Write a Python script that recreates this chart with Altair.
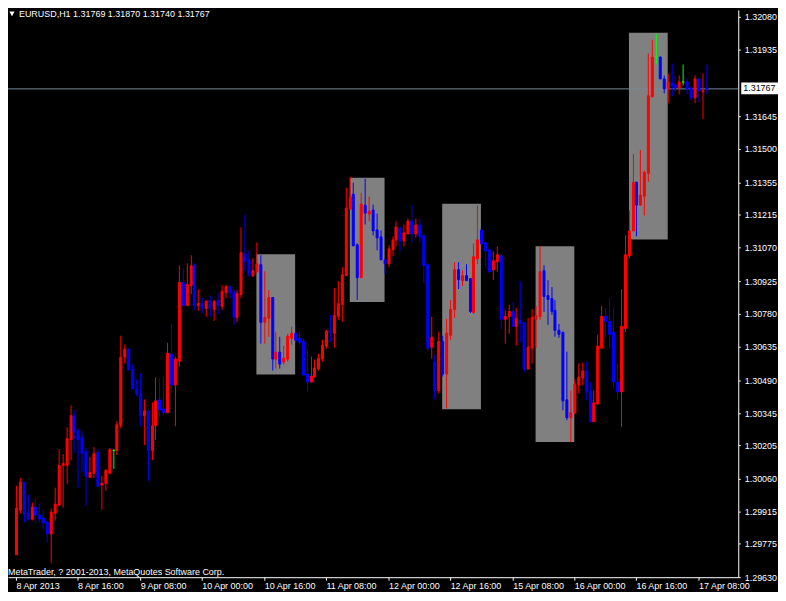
import altair as alt
import pandas as pd

# ---------------- data (EURUSD, H1, 8 Apr 2013 00:00 -> 17 Apr 2013 10:00) ----------------
opens = [
    1.29726, 1.29925, 1.30045, 1.29912, 1.29886, 1.29937, 1.29903, 1.29890, 1.29873, 1.29821,
    1.29912, 1.29946, 1.30119, 1.30119, 1.30231, 1.30335, 1.30270, 1.30240, 1.30179, 1.30067,
    1.30084, 1.30175, 1.30033, 1.30041, 1.30084, 1.30184, 1.30184, 1.30292, 1.30594, 1.30629,
    1.30542, 1.30456, 1.30430, 1.30335, 1.30357, 1.30184, 1.30292, 1.30404, 1.30365, 1.30348,
    1.30607, 1.30473, 1.30577, 1.30918, 1.30819, 1.30905, 1.30996, 1.30819, 1.30827, 1.30806,
    1.30840, 1.30801, 1.30840, 1.30814, 1.30875, 1.30901, 1.30879, 1.30767, 1.30866, 1.31043,
    1.31017, 1.30948, 1.30966, 1.30996, 1.30745, 1.30763, 1.30853, 1.30585, 1.30616, 1.30573,
    1.30585, 1.30676, 1.30698, 1.30676, 1.30663, 1.30521, 1.30486, 1.30508, 1.30542, 1.30585,
    1.30642, 1.30706, 1.30698, 1.30771, 1.30823, 1.30948, 1.31242, 1.31307, 1.31082, 1.30940,
    1.31259, 1.31220, 1.31238, 1.31151, 1.31117, 1.31017, 1.31000, 1.31061, 1.31104, 1.31160,
    1.31100, 1.31134, 1.31190, 1.31130, 1.31173, 1.31125, 1.30996, 1.30637, 1.30573, 1.30447,
    1.30663, 1.30521, 1.30689, 1.30801, 1.30974, 1.30927, 1.30948, 1.30935, 1.30789, 1.31022,
    1.31151, 1.31091, 1.31061, 1.30974, 1.31009, 1.31035, 1.30758, 1.30771, 1.30793, 1.30728,
    1.30754, 1.30745, 1.30542, 1.30633, 1.30758, 1.30771, 1.30970, 1.30862, 1.30849, 1.30797,
    1.30711, 1.30702, 1.30408, 1.30326, 1.30348, 1.30473, 1.30503, 1.30534, 1.30447, 1.30309,
    1.30387, 1.30633, 1.30771, 1.30750, 1.30702, 1.30486, 1.30439, 1.30719, 1.31035, 1.31147,
    1.31359, 1.31259, 1.31298, 1.31398, 1.31730, 1.31907, 1.31907, 1.31808, 1.31765, 1.31791,
    1.31786, 1.31773, 1.31799, 1.31799, 1.31769, 1.31726, 1.31812, 1.31752, 1.31769,
]
highs = [
    1.30028, 1.30063, 1.30045, 1.29989, 1.29955, 1.29968, 1.29950, 1.29925, 1.29873, 1.29929,
    1.30020, 1.30188, 1.30166, 1.30283, 1.30378, 1.30357, 1.30279, 1.30266, 1.30192, 1.30153,
    1.30197, 1.30188, 1.30071, 1.30102, 1.30192, 1.30188, 1.30309, 1.30685, 1.30646, 1.30629,
    1.30560, 1.30495, 1.30521, 1.30404, 1.30357, 1.30395, 1.30503, 1.30499, 1.30508, 1.30655,
    1.30737, 1.30594, 1.30992, 1.30979, 1.31000, 1.31035, 1.31000, 1.30888, 1.30849, 1.30840,
    1.30858, 1.30840, 1.30871, 1.30905, 1.30905, 1.30901, 1.30888, 1.30884, 1.31156, 1.31216,
    1.31056, 1.31022, 1.31091, 1.31035, 1.30966, 1.30884, 1.30853, 1.30702, 1.30681, 1.30642,
    1.30694, 1.30724, 1.30732, 1.30702, 1.30672, 1.30629, 1.30594, 1.30581, 1.30607, 1.30668,
    1.30711, 1.30776, 1.30892, 1.30922, 1.30983, 1.31333, 1.31380, 1.31354, 1.31087, 1.31311,
    1.31372, 1.31294, 1.31259, 1.31220, 1.31147, 1.31017, 1.31078, 1.31121, 1.31182, 1.31164,
    1.31173, 1.31199, 1.31259, 1.31199, 1.31199, 1.31130, 1.31000, 1.30767, 1.30603, 1.30702,
    1.30685, 1.30758, 1.30840, 1.31005, 1.31005, 1.30970, 1.30996, 1.30935, 1.31087, 1.31255,
    1.31151, 1.31091, 1.31061, 1.31052, 1.31074, 1.31035, 1.30797, 1.30819, 1.30832, 1.30806,
    1.30922, 1.30745, 1.30763, 1.30801, 1.30814, 1.31074, 1.30992, 1.30927, 1.30897, 1.30840,
    1.30737, 1.30702, 1.30616, 1.30447, 1.30495, 1.30564, 1.30568, 1.30573, 1.30482, 1.30447,
    1.30689, 1.30814, 1.30806, 1.30849, 1.30810, 1.30564, 1.30888, 1.31125, 1.31233, 1.31480,
    1.31359, 1.31497, 1.31406, 1.31920, 1.31981, 1.32007, 1.31907, 1.31821, 1.31830, 1.31877,
    1.31825, 1.31821, 1.31869, 1.31812, 1.31769, 1.31825, 1.31812, 1.31830, 1.31870,
]
lows = [
    1.29726, 1.29907, 1.29868, 1.29877, 1.29877, 1.29868, 1.29868, 1.29842, 1.29778, 1.29687,
    1.29877, 1.29942, 1.29933, 1.30037, 1.30141, 1.30171, 1.30020, 1.30089, 1.29942, 1.30063,
    1.30063, 1.30028, 1.29925, 1.30007, 1.30080, 1.30102, 1.30162, 1.30279, 1.30564, 1.30538,
    1.30452, 1.30417, 1.30287, 1.30205, 1.30050, 1.30141, 1.30227, 1.30322, 1.30335, 1.30348,
    1.30430, 1.30287, 1.30551, 1.30819, 1.30819, 1.30866, 1.30797, 1.30793, 1.30784, 1.30767,
    1.30767, 1.30750, 1.30780, 1.30797, 1.30849, 1.30849, 1.30732, 1.30745, 1.30849, 1.30966,
    1.30940, 1.30940, 1.30957, 1.30650, 1.30650, 1.30681, 1.30534, 1.30542, 1.30542, 1.30560,
    1.30573, 1.30646, 1.30650, 1.30646, 1.30512, 1.30439, 1.30482, 1.30503, 1.30534, 1.30573,
    1.30629, 1.30659, 1.30633, 1.30754, 1.30745, 1.30944, 1.31238, 1.31078, 1.30840, 1.30935,
    1.31169, 1.31186, 1.31125, 1.31056, 1.31013, 1.30953, 1.30983, 1.31030, 1.31074, 1.31052,
    1.31074, 1.31130, 1.31091, 1.31113, 1.31095, 1.30914, 1.30620, 1.30585, 1.30404, 1.30430,
    1.30508, 1.30365, 1.30668, 1.30763, 1.30888, 1.30901, 1.30927, 1.30784, 1.30780, 1.30996,
    1.31074, 1.30987, 1.30957, 1.30927, 1.30961, 1.30715, 1.30650, 1.30694, 1.30728, 1.30642,
    1.30655, 1.30525, 1.30542, 1.30564, 1.30633, 1.30754, 1.30789, 1.30732, 1.30776, 1.30681,
    1.30676, 1.30357, 1.30313, 1.30218, 1.30339, 1.30434, 1.30465, 1.30400, 1.30305, 1.30309,
    1.30378, 1.30629, 1.30676, 1.30629, 1.30456, 1.30404, 1.30283, 1.30702, 1.31022, 1.31147,
    1.31117, 1.31255, 1.31212, 1.31359, 1.31730, 1.31869, 1.31808, 1.31743, 1.31700, 1.31730,
    1.31752, 1.31739, 1.31778, 1.31739, 1.31713, 1.31700, 1.31704, 1.31631, 1.31740,
]
closes = [
    1.29933, 1.30045, 1.29907, 1.29886, 1.29937, 1.29903, 1.29886, 1.29868, 1.29821, 1.29916,
    1.29950, 1.30119, 1.30128, 1.30236, 1.30335, 1.30266, 1.30231, 1.30171, 1.30071, 1.30089,
    1.30171, 1.30028, 1.30041, 1.30097, 1.30188, 1.30184, 1.30296, 1.30594, 1.30629, 1.30538,
    1.30452, 1.30430, 1.30335, 1.30357, 1.30184, 1.30292, 1.30400, 1.30361, 1.30348, 1.30611,
    1.30473, 1.30585, 1.30918, 1.30819, 1.30909, 1.30992, 1.30819, 1.30827, 1.30806, 1.30836,
    1.30806, 1.30836, 1.30819, 1.30879, 1.30901, 1.30875, 1.30767, 1.30871, 1.31048, 1.31009,
    1.30953, 1.30970, 1.31000, 1.30745, 1.30767, 1.30853, 1.30585, 1.30616, 1.30564, 1.30590,
    1.30685, 1.30698, 1.30668, 1.30659, 1.30516, 1.30486, 1.30512, 1.30547, 1.30590, 1.30646,
    1.30706, 1.30698, 1.30776, 1.30827, 1.30953, 1.31246, 1.31294, 1.31078, 1.30940, 1.31264,
    1.31225, 1.31233, 1.31143, 1.31113, 1.31017, 1.31000, 1.31065, 1.31108, 1.31164, 1.31100,
    1.31138, 1.31190, 1.31134, 1.31173, 1.31121, 1.30992, 1.30633, 1.30681, 1.30447, 1.30663,
    1.30521, 1.30698, 1.30801, 1.30974, 1.30931, 1.30948, 1.30927, 1.30793, 1.31030, 1.31108,
    1.31087, 1.31056, 1.30966, 1.31013, 1.31039, 1.30758, 1.30771, 1.30793, 1.30728, 1.30763,
    1.30741, 1.30542, 1.30637, 1.30767, 1.30776, 1.30966, 1.30858, 1.30845, 1.30793, 1.30711,
    1.30694, 1.30400, 1.30326, 1.30348, 1.30477, 1.30508, 1.30534, 1.30443, 1.30309, 1.30391,
    1.30642, 1.30771, 1.30750, 1.30694, 1.30486, 1.30439, 1.30728, 1.31039, 1.31147, 1.31359,
    1.31259, 1.31303, 1.31402, 1.31735, 1.31907, 1.31907, 1.31808, 1.31765, 1.31795, 1.31778,
    1.31769, 1.31795, 1.31799, 1.31765, 1.31726, 1.31812, 1.31756, 1.31760, 1.31767,
]

# time-axis ticks (bar index) and their labels
date_ticks = [0, 16, 32, 48, 64, 80, 96, 112, 128, 144, 160, 176]
date_labels = ["8 Apr 2013", "8 Apr 16:00", "9 Apr 08:00", "10 Apr 00:00",
               "10 Apr 16:00", "11 Apr 08:00", "12 Apr 00:00", "12 Apr 16:00",
               "15 Apr 08:00", "16 Apr 00:00", "16 Apr 16:00", "17 Apr 08:00"]

# price-axis labels (1.31790 is hidden behind the bid label)
price_ticks = [1.29630, 1.29775, 1.29915, 1.30060, 1.30205, 1.30345, 1.30490,
               1.30635, 1.30780, 1.30925, 1.31070, 1.31215, 1.31355, 1.31500,
               1.31645, 1.31935, 1.32080]

# grey session boxes (bar index range, price range)
box_start = [62, 86, 110, 134, 158]
box_end = [72, 95, 120, 144, 168]
box_top = [1.31039, 1.31376, 1.31264, 1.31074, 1.32011]
box_bottom = [1.30516, 1.30832, 1.30361, 1.30218, 1.31108]

symbol = "EURUSD,H1"
copyright_text = "MetaTrader, ? 2001-2013, MetaQuotes Software Corp."

# ---------------- frames ----------------
n = len(opens)
df = pd.DataFrame({"bar": list(range(n)), "open": opens, "high": highs,
                   "low": lows, "close": closes})
df["dir"] = ["up" if c > o else ("down" if c < o else "flat")
             for o, c in zip(opens, closes)]

boxes = pd.DataFrame({"start": box_start, "end": box_end,
                      "top": box_top, "bottom": box_bottom})

bid = closes[-1]
bid_df = pd.DataFrame({"p": [bid], "label": [f"{bid:.5f}"]})
title_df = pd.DataFrame({"t": [f"{symbol}  {opens[-1]:.5f} {highs[-1]:.5f} "
                               f"{lows[-1]:.5f} {closes[-1]:.5f}"]})
copy_df = pd.DataFrame({"t": [copyright_text]})
tri_df = pd.DataFrame({"t": ["v"]})

# ---------------- scales / axes ----------------
W, H = 735, 571
FONT = "Liberation Sans"

x_scale = alt.Scale(domain=[-0.75, 185], nice=False, zero=False, round=True)
y_scale = alt.Scale(domain=[1.29628, 1.32110], nice=False, zero=False, round=True)
dir_scale = alt.Scale(domain=["up", "down", "flat"],
                      range=["#ff0000", "#0000ff", "#00ff00"])

label_expr = ("[" + ",".join(f"'{s}'" for s in date_labels) + "][indexof(["
              + ",".join(str(t) for t in date_ticks) + "], datum.value)]")

x_axis = alt.Axis(values=date_ticks, labelExpr=label_expr, orient="bottom",
                  title=None, grid=False, labelAlign="left", labelBaseline="top",
                  labelPadding=1, labelFlush=False, labelOverlap=False,
                  tickSize=3, tickColor="white", domainColor="white",
                  labelColor="white", labelFont=FONT, labelFontSize=9)
y_axis = alt.Axis(values=price_ticks, format=".5f", orient="right", title=None,
                  grid=False, labelPadding=4, tickSize=2, tickColor="white",
                  domainColor="white", labelColor="white", labelFont=FONT,
                  labelFontSize=9, labelFlush=False, labelOverlap=False,
                  labelBaseline="middle")

X = lambda f: alt.X(f, scale=x_scale, axis=x_axis)
Y = lambda f: alt.Y(f, scale=y_scale, axis=y_axis)

box_layer = alt.Chart(boxes).mark_rect(color="#808080", opacity=1).encode(
    x=X("start:Q"), x2="end:Q", y=Y("top:Q"), y2="bottom:Q")

bid_line = alt.Chart(bid_df).mark_rule(color="#778899", strokeWidth=1,
                                       yOffset=0.5).encode(y=Y("p:Q"))

wicks = alt.Chart(df).mark_rule(strokeWidth=1, xOffset=0.5).encode(
    x=X("bar:Q"), y=Y("low:Q"), y2="high:Q",
    color=alt.Color("dir:N", scale=dir_scale, legend=None))

bodies = alt.Chart(df).mark_bar(width=2, strokeWidth=1, xOffset=0.5,
                                yOffset=0.5, y2Offset=0.5, opacity=1).encode(
    x=X("bar:Q"), y=Y("open:Q"), y2="close:Q",
    fill=alt.Fill("dir:N", scale=dir_scale, legend=None),
    stroke=alt.Stroke("dir:N", scale=dir_scale, legend=None))

bid_box = alt.Chart(bid_df).mark_point(
    shape="M-1,-0.3L1,-0.3L1,0.3L-1,0.3Z", filled=True, size=1600,
    color="white", opacity=1).encode(x=alt.value(W + 23), y=Y("p:Q"))

bid_text = alt.Chart(bid_df).mark_text(
    align="left", baseline="middle", color="black", font=FONT, fontSize=9
).encode(x=alt.value(W + 5), y=Y("p:Q"), text="label:N")

tri = alt.Chart(tri_df).mark_point(shape="triangle-down", filled=True, size=28,
                                   color="white", opacity=1).encode(
    x=alt.value(4), y=alt.value(4))

title_text = alt.Chart(title_df).mark_text(
    align="left", baseline="middle", color="white", font=FONT, fontSize=9
).encode(x=alt.value(11), y=alt.value(4), text="t:N")

copy_text = alt.Chart(copy_df).mark_text(
    align="left", baseline="middle", color="white", font=FONT, fontSize=9
).encode(x=alt.value(0), y=alt.value(H - 5), text="t:N")

chart = alt.layer(
    box_layer, bid_line, wicks, bodies, bid_box, bid_text, tri, title_text, copy_text
).properties(
    width=W, height=H,
    autosize=alt.AutoSizeParams(type="none"),
    padding={"left": 0, "top": 0, "right": 40, "bottom": 13},
).configure(background="black").configure_view(stroke=None)

chart.save("out.html", embed_options={"renderer": "svg", "actions": False})
